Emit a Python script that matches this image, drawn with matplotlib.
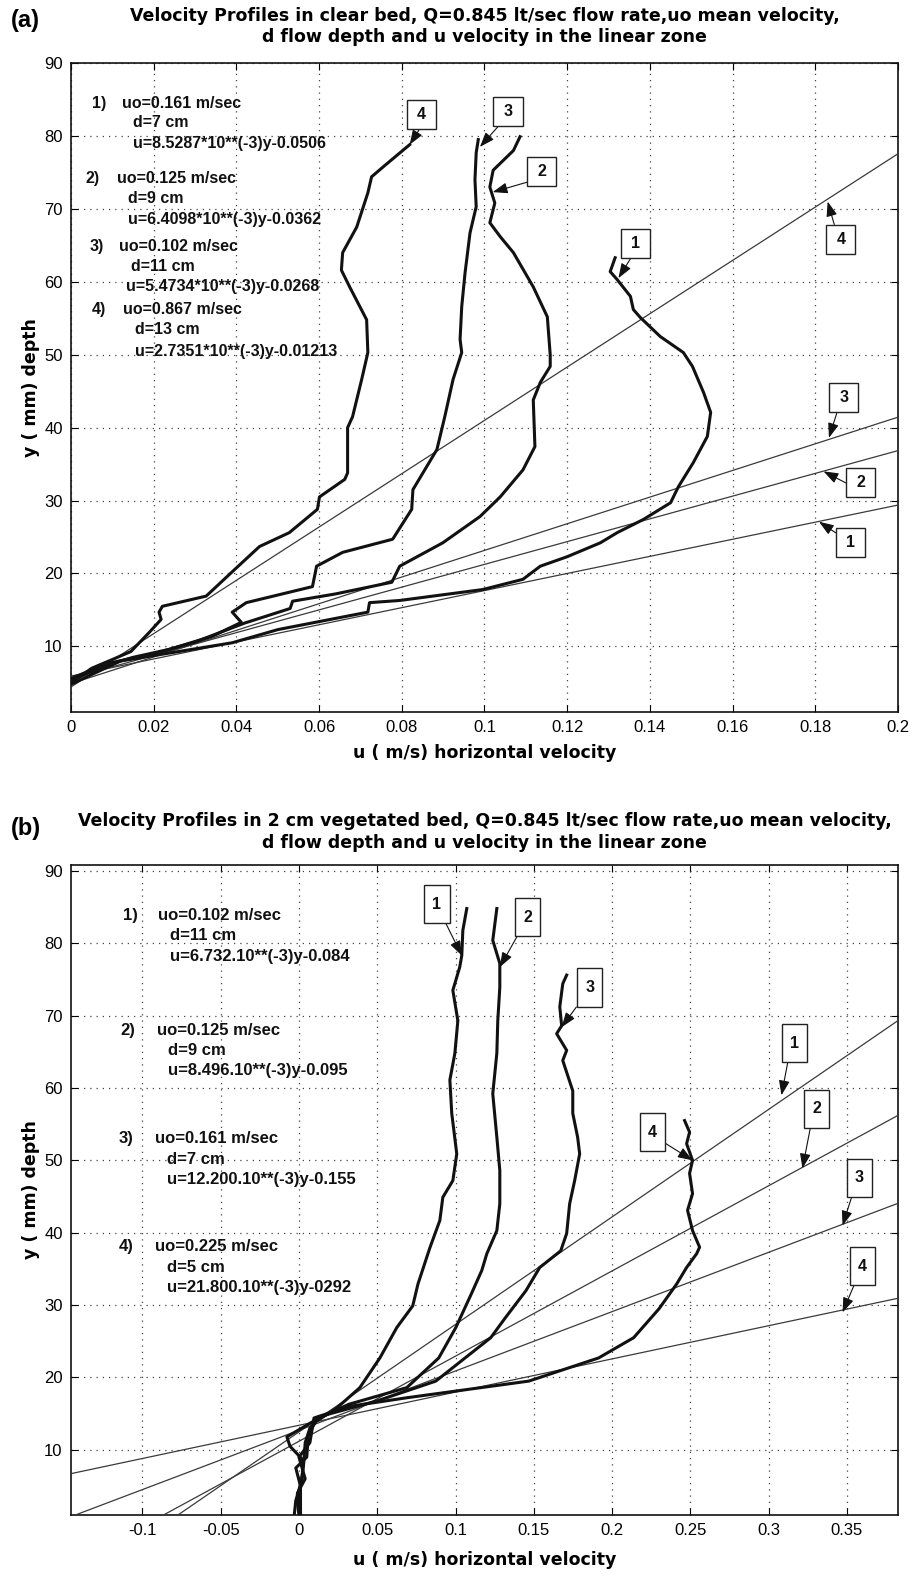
import matplotlib
matplotlib.use("Agg")
import matplotlib.pyplot as plt
from matplotlib.path import Path
from matplotlib.ticker import FormatStrFormatter

# ---------------------------------------------------------------------------
# Panel (a): clear bed  -- digitised velocity profiles (u in m/s, y in mm)
# ---------------------------------------------------------------------------
A_P1_U = [0.1316, 0.1304, 0.1321, 0.1353, 0.1360, 0.1377, 0.1425, 0.1481, 0.1503,
          0.1530, 0.1547, 0.1539, 0.1505, 0.1469, 0.1450, 0.1384, 0.1321, 0.1280,
          0.1200, 0.1135, 0.1093, 0.0996, 0.0795, 0.0722, 0.0718, 0.0500, 0.0390,
          0.0250, 0.0120, 0.0]
A_P1_Y = [63.3, 61.4, 60.3, 58.0, 56.2, 55.1, 52.5, 50.3, 48.4,
          44.8, 42.1, 38.8, 35.2, 31.9, 29.7, 27.4, 25.6, 24.2,
          22.3, 21.0, 19.2, 17.8, 16.3, 16.0, 14.7, 12.3, 10.5,
          9.2, 8.0, 4.8]

A_P2_U = [0.1086, 0.1070, 0.1021, 0.1013, 0.1025, 0.1013, 0.1038, 0.1070, 0.1118,
          0.1152, 0.1159, 0.1159, 0.1135, 0.1118, 0.1122, 0.1093, 0.1038, 0.0989,
          0.0899, 0.0795, 0.0776, 0.0640, 0.0536, 0.0530, 0.0420, 0.0300, 0.0200,
          0.0100, 0.0]
A_P2_Y = [79.9, 78.0, 75.3, 73.0, 70.8, 68.1, 66.2, 64.0, 59.3,
          55.2, 50.0, 48.4, 46.2, 43.8, 37.4, 34.2, 30.5, 27.8,
          24.2, 21.0, 18.8, 17.2, 16.2, 15.2, 13.2, 10.6, 9.0,
          7.8, 5.3]

A_P3_U = [0.0985, 0.0980, 0.0977, 0.0980, 0.0965, 0.0953, 0.0945, 0.0941, 0.0945,
          0.0924, 0.0904, 0.0885, 0.0827, 0.0824, 0.0778, 0.0657, 0.0594, 0.0584,
          0.0424, 0.0390, 0.0412, 0.0342, 0.0238, 0.0150, 0.0060, 0.0]
A_P3_Y = [79.5, 77.7, 74.0, 70.3, 66.7, 61.2, 56.6, 52.1, 50.3,
          46.6, 41.5, 37.0, 31.5, 28.8, 24.7, 22.9, 21.0, 18.2,
          16.0, 14.7, 13.3, 11.4, 9.6, 8.5, 7.0, 5.6]

A_P4_U = [0.0819, 0.0760, 0.0727, 0.0718, 0.0691, 0.0657, 0.0654, 0.0674, 0.0715,
          0.0718, 0.0703, 0.0681, 0.0669, 0.0669, 0.0662, 0.0601, 0.0596, 0.0528,
          0.0456, 0.0395, 0.0327, 0.0221, 0.0213, 0.0218, 0.0189, 0.0145, 0.0100,
          0.0050, 0.0]
A_P4_Y = [78.8, 76.0, 74.4, 72.2, 67.5, 64.0, 61.6, 59.3, 54.8,
          50.3, 46.6, 41.5, 40.0, 33.8, 32.9, 30.5, 28.8, 25.6,
          23.7, 20.5, 16.9, 15.5, 14.7, 13.7, 11.9, 9.3, 8.2,
          7.0, 5.0]

# linear-zone fits u = slope*y + intercept
A_FIT_SLOPE = [8.5287e-3, 6.4098e-3, 5.4734e-3, 2.7351e-3]
A_FIT_ICEPT = [-0.0506, -0.0362, -0.0268, -0.01213]

A_NOTES = [
    ("1)", "uo=0.161 m/sec", "d=7 cm", "u=8.5287*10**(-3)y-0.0506"),
    ("2)", "uo=0.125 m/sec", "d=9 cm", "u=6.4098*10**(-3)y-0.0362"),
    ("3)", "uo=0.102 m/sec", "d=11 cm", "u=5.4734*10**(-3)y-0.0268"),
    ("4)", "uo=0.867 m/sec", "d=13 cm", "u=2.7351*10**(-3)y-0.01213"),
]
A_XTICKS = [0, 0.02, 0.04, 0.06, 0.08, 0.1, 0.12, 0.14, 0.16, 0.18, 0.2]
A_TITLE = ("Velocity Profiles in clear bed, Q=0.845 lt/sec flow rate,uo mean velocity,\n"
           "d flow depth and u velocity in the linear zone")

# ---------------------------------------------------------------------------
# Panel (b): 2 cm vegetated bed
# ---------------------------------------------------------------------------
B_P1_U = [0.1072, 0.1047, 0.1040, 0.1027, 0.0983, 0.1015, 0.0996, 0.0964, 0.0976,
          0.1008, 0.0983, 0.0919, 0.0900, 0.0836, 0.0760, 0.0727, 0.0625, 0.0517,
          0.0389, 0.0243, 0.0115, 0.0070, 0.0040, 0.0030, 0.0010, -0.0010, 0.0]
B_P1_Y = [84.8, 81.8, 78.3, 76.7, 73.5, 69.3, 64.8, 61.1, 56.5,
          50.9, 47.2, 44.9, 41.7, 37.9, 32.9, 29.9, 26.9, 22.7,
          18.6, 15.8, 14.0, 13.0, 11.0, 8.0, 5.0, 3.0, 1.0]

B_P2_U = [0.1264, 0.1238, 0.1283, 0.1283, 0.1270, 0.1264, 0.1238, 0.1264, 0.1283,
          0.1283, 0.1264, 0.1200, 0.1168, 0.1100, 0.1002, 0.0893, 0.0689, 0.0319,
          0.0120, -0.0077, -0.0057, 0.0030, 0.0020, -0.0020, -0.0030]
B_P2_Y = [84.8, 80.4, 77.2, 73.9, 69.3, 64.8, 59.2, 53.2, 48.6,
          44.0, 40.3, 37.1, 34.8, 31.5, 26.9, 22.7, 18.6, 16.3,
          14.3, 11.8, 10.5, 8.5, 6.0, 3.0, 1.0]

B_P3_U = [0.1710, 0.1685, 0.1666, 0.1678, 0.1646, 0.1710, 0.1685, 0.1749, 0.1749,
          0.1780, 0.1793, 0.1761, 0.1729, 0.1710, 0.1672, 0.1538, 0.1450, 0.1320,
          0.1225, 0.0874, 0.0504, 0.0200, 0.0120, 0.0060, 0.0050, -0.0020, 0.0010,
          0.0010]
B_P3_Y = [75.6, 74.4, 71.2, 68.6, 67.5, 65.2, 63.8, 59.6, 56.5,
          53.2, 50.9, 47.2, 44.0, 39.9, 37.5, 35.2, 32.0, 28.3,
          25.5, 19.5, 16.8, 15.0, 14.5, 12.0, 9.0, 7.5, 5.0,
          1.0]

B_P4_U = [0.2463, 0.2495, 0.2476, 0.2514, 0.2495, 0.2514, 0.2482, 0.2514, 0.2559,
          0.2540, 0.2476, 0.2412, 0.2300, 0.2138, 0.1914, 0.1468, 0.0689, 0.0319,
          0.0096, 0.0070, 0.0, 0.0040, -0.0010, 0.0]
B_P4_Y = [55.5, 53.9, 52.3, 50.0, 48.2, 45.4, 43.1, 40.3, 38.0,
          37.1, 35.2, 32.9, 29.5, 25.5, 22.7, 19.5, 17.2, 16.0,
          14.4, 11.0, 9.0, 6.0, 4.0, 1.5]

B_FIT_SLOPE = [6.732e-3, 8.496e-3, 12.200e-3, 21.800e-3]
B_FIT_ICEPT = [-0.084, -0.095, -0.155, -0.292]

B_NOTES = [
    ("1)", "uo=0.102 m/sec", "d=11 cm", "u=6.732.10**(-3)y-0.084"),
    ("2)", "uo=0.125 m/sec", "d=9 cm", "u=8.496.10**(-3)y-0.095"),
    ("3)", "uo=0.161 m/sec", "d=7 cm", "u=12.200.10**(-3)y-0.155"),
    ("4)", "uo=0.225 m/sec", "d=5 cm", "u=21.800.10**(-3)y-0292"),
]
B_XTICKS = [-0.1, -0.05, 0, 0.05, 0.1, 0.15, 0.2, 0.25, 0.3, 0.35]
B_TITLE = ("Velocity Profiles in 2 cm vegetated bed, Q=0.845 lt/sec flow rate,uo mean velocity,\n"
           "d flow depth and u velocity in the linear zone")

YTICKS = [10, 20, 30, 40, 50, 60, 70, 80, 90]
LABELS = ["1", "2", "3", "4"]

# ---------------------------------------------------------------------------
# Style
# ---------------------------------------------------------------------------
plt.rcParams.update({
    "font.family": ["Liberation Sans", "DejaVu Sans"],
    "axes.unicode_minus": False,
    "axes.linewidth": 1.2,
    "xtick.direction": "in",
    "ytick.direction": "in",
    "xtick.top": True,
    "ytick.right": True,
    "xtick.major.size": 5,
    "ytick.major.size": 5,
    "xtick.major.pad": 6,
    "ytick.major.pad": 6,
    "xtick.labelsize": 12,
    "ytick.labelsize": 12,
})

INK = "#111111"
FIT = "#3a3a3a"
HEAD = dict(family="DejaVu Sans", fontsize=12.5, fontweight="bold")


def box_style(padx, pady):
    """Plain rectangle with separate horizontal / vertical padding."""
    def style(x0, y0, width, height, mutation_size):
        px, py = padx * mutation_size, pady * mutation_size
        xa, ya = x0 - px, y0 - py
        xb, yb = x0 + width + px, y0 + height + py
        return Path([(xa, ya), (xb, ya), (xb, yb), (xa, yb), (xa, ya)], closed=True)
    return style


def tag(ax, text, box_xy, tip_xy, rel, style, size):
    ax.annotate(
        text, xy=tip_xy, xytext=box_xy, ha="center", va="center",
        fontsize=size, fontweight="bold", color=INK, zorder=6,
        bbox=dict(boxstyle=style, fc="white", ec="#222222", lw=1.0),
        arrowprops=dict(arrowstyle="-|>,head_length=0.6,head_width=0.22",
                        color=INK, lw=0.8, mutation_scale=15,
                        shrinkA=0, shrinkB=0, relpos=rel),
    )


def frame(ax, xlim, ylim, xticks, xlabel_y):
    ax.set_xlim(*xlim)
    ax.set_ylim(*ylim)
    ax.set_xticks(xticks)
    ax.set_yticks(YTICKS)
    ax.xaxis.set_major_formatter(FormatStrFormatter("%g"))
    ax.yaxis.set_major_formatter(FormatStrFormatter("%g"))
    ax.grid(True, color="#444444", linestyle=(0, (1, 4)), linewidth=0.9)
    ax.set_axisbelow(True)
    ax.set_xlabel("u ( m/s) horizontal velocity", **HEAD)
    ax.set_ylabel("y ( mm) depth", **HEAD)
    ax.xaxis.set_label_coords(0.5, xlabel_y)
    ax.yaxis.set_label_coords(-0.038, 0.5)
    for s in ax.spines.values():
        s.set_color(INK)


fig = plt.figure(figsize=(9.11, 15.76), dpi=100)
ax_a = fig.add_axes([0.0779, 0.5482, 0.9078, 0.4118])
ax_b = fig.add_axes([0.0779, 0.0387, 0.9078, 0.4124])

# ---------------------------------------------------------------- panel (a)
ax = ax_a
frame(ax, (0, 0.2), (1, 90), A_XTICKS, -0.050)
for a, b in zip(A_FIT_SLOPE, A_FIT_ICEPT):
    ax.axline((b, 0), slope=1.0 / a, color=FIT, lw=0.9, zorder=3)
for u, y in ((A_P1_U, A_P1_Y), (A_P2_U, A_P2_Y), (A_P3_U, A_P3_Y), (A_P4_U, A_P4_Y)):
    ax.plot(u, y, color=INK, lw=2.2, solid_joinstyle="round", zorder=4)

note_rows_a = [(84.5, 81.8, 78.9), (74.2, 71.4, 68.5), (64.8, 62.1, 59.3), (56.2, 53.4, 50.4)]
note_x_a = [(0.0051, 0.0124, 0.0150, 0.0150), (0.0036, 0.0112, 0.0138, 0.0138),
            (0.0044, 0.0116, 0.0145, 0.0133), (0.0051, 0.0126, 0.0155, 0.0155)]
for (num, uo, d, eq), (y1, y2, y3), (xn, xu, xd, xe) in zip(A_NOTES, note_rows_a, note_x_a):
    kw = dict(fontsize=11.5, fontweight="bold", va="center", ha="left", color=INK, zorder=5)
    ax.text(xn, y1, num, **kw)
    ax.text(xu, y1, uo, **kw)
    ax.text(xd, y2, d, **kw)
    ax.text(xe, y3, eq, **kw)

sq = box_style(0.63, 0.44)
prof_a = [((0.1365, 65.3), (0.1324, 60.5), (0.5, 0.0)),
          ((0.1139, 75.1), (0.1020, 72.3), (0.0, 0.0)),
          ((0.1057, 83.3), (0.0989, 78.5), (0.1, 0.0)),
          ((0.0848, 82.9), (0.0819, 78.8), (0.75, 0.0))]
line_a = [((0.1886, 24.2), (0.1809, 27.1), (0.0, 0.7)),
          ((0.1910, 32.5), (0.1820, 34.0), (0.0, 0.1)),
          ((0.1869, 44.1), (0.1833, 38.6), (0.0, 0.0)),
          ((0.1862, 65.8), (0.1830, 71.0), (0.0, 1.0))]
for lab, (bxy, txy, rel) in zip(LABELS, prof_a):
    tag(ax, lab, bxy, txy, rel, sq, 11.5)
for lab, (bxy, txy, rel) in zip(LABELS, line_a):
    tag(ax, lab, bxy, txy, rel, sq, 11.5)

# ---------------------------------------------------------------- panel (b)
ax = ax_b
frame(ax, (-0.1456, 0.3826), (1, 90.8), B_XTICKS, -0.056)
for a, b in zip(B_FIT_SLOPE, B_FIT_ICEPT):
    ax.axline((b, 0), slope=1.0 / a, color=FIT, lw=0.9, zorder=3)
for u, y in ((B_P1_U, B_P1_Y), (B_P2_U, B_P2_Y), (B_P3_U, B_P3_Y), (B_P4_U, B_P4_Y)):
    ax.plot(u, y, color=INK, lw=2.2, solid_joinstyle="round", zorder=4)

note_rows_b = [(83.85, 81.1, 78.2), (68.0, 65.2, 62.4), (53.0, 50.1, 47.3), (38.1, 35.2, 32.4)]
note_x_b = [(-0.1123, -0.0900, -0.0823), (-0.1142, -0.0906, -0.0836),
            (-0.1149, -0.0919, -0.0842), (-0.1149, -0.0919, -0.0842)]
for (num, uo, d, eq), (y1, y2, y3), (xn, xu, xd) in zip(B_NOTES, note_rows_b, note_x_b):
    kw = dict(fontsize=12, fontweight="bold", va="center", ha="left", color=INK, zorder=5)
    ax.text(xn, y1, num, **kw)
    ax.text(xu, y1, uo, **kw)
    ax.text(xd, y2, d, **kw)
    ax.text(xd, y3, eq, **kw)

tall = box_style(0.52, 0.73)
prof_b = [((0.0880, 85.4), (0.1040, 78.3), (0.87, 0.0)),
          ((0.1461, 83.6), (0.1283, 76.7), (0.05, 0.0)),
          ((0.1857, 73.9), (0.1678, 68.4), (0.0, 0.0)),
          ((0.2259, 53.9), (0.2514, 50.0), (1.0, 0.1))]
line_b = [((0.3165, 66.2), (0.3082, 59.0), (0.0, 0.0)),
          ((0.3306, 57.1), (0.3216, 48.9), (0.05, 0.0)),
          ((0.3580, 47.6), (0.3472, 41.0), (0.05, 0.0)),
          ((0.3600, 35.4), (0.3472, 29.0), (0.1, 0.0))]
for lab, (bxy, txy, rel) in zip(LABELS, prof_b):
    tag(ax, lab, bxy, txy, rel, tall, 11.5)
for lab, (bxy, txy, rel) in zip(LABELS, line_b):
    tag(ax, lab, bxy, txy, rel, tall, 11.5)

# ---------------------------------------------------------------- titles
cx = 0.5319
fig.text(cx, 1 - 26.5 / 1576, A_TITLE, ha="center", va="center",
         linespacing=1.22, **HEAD)
fig.text(cx, 1 - 832 / 1576, B_TITLE, ha="center", va="center",
         linespacing=1.22, **HEAD)
fig.text(0.012, 1 - 21 / 1576, "(a)", ha="left", va="center",
         fontsize=17, fontweight="bold")
fig.text(0.012, 1 - 829 / 1576, "(b)", ha="left", va="center",
         fontsize=17, fontweight="bold")

fig.savefig("out.png", dpi=100)
plt.close(fig)
